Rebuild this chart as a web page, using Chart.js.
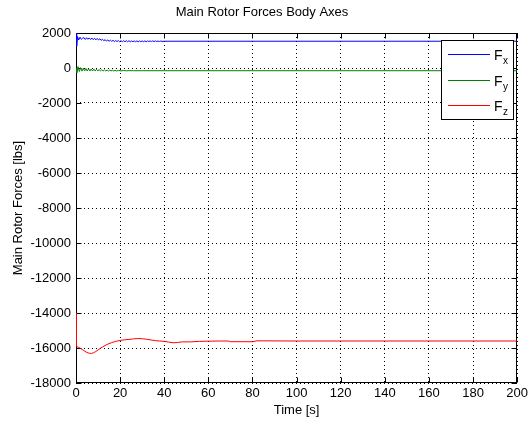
<!DOCTYPE html>
<html lang="en">
<head>
<meta charset="UTF-8" />
<title>Main Rotor Forces Body Axes</title>
<script src="https://cdn.jsdelivr.net/npm/chart.js"></script>
<style>
  body { margin: 0; background: #fff; }
  #wrap { width: 531px; height: 422px; }
</style>
</head>
<body>
<div id="wrap"><canvas id="forces" width="531" height="422"></canvas></div>
<script>
  // values (time in s, forces in lbs)
  const seriesLabels = ['Fx', 'Fy', 'Fz'];
  const seriesColors = ['#0000ff', '#008000', '#ff0000'];

  const fxTime = [
    0, 0.3, 0.7, 1.2, 1.8, 2.4, 3.0,
    3.6, 4.2, 4.8, 5.4, 6.0, 6.6, 7.2, 7.8, 8.4, 9.0,
    9.6, 10.2, 10.8, 11.4, 12.0, 12.6, 13.2, 13.8, 14.4, 15.0,
    15.6, 16.2, 16.8, 17.4, 18.0, 18.6, 19.2, 19.8, 20.4, 21.0,
    21.6, 22.2, 22.8, 23.4, 24.0, 24.6, 25.2, 25.8, 26.4, 27.0,
    27.6, 28.2, 28.8, 29.4, 30.0, 30.6, 31.2, 31.8, 32.4, 33.0,
    33.6, 34.2, 34.8, 35.4, 36.0, 36.6, 37.2, 37.8, 38.4, 39.0,
    40, 200
  ];
  const fxValues = [
    2000, 1250, 1800, 1600, 1760, 1640, 1700,
    1740, 1630, 1730, 1640, 1720, 1630, 1710, 1620, 1700, 1610,
    1690, 1600, 1670, 1580, 1640, 1560, 1620, 1540, 1600, 1530,
    1590, 1520, 1580, 1510, 1570, 1510, 1570, 1500, 1560, 1500,
    1560, 1500, 1560, 1500, 1560, 1500, 1550, 1500, 1550, 1500,
    1550, 1500, 1550, 1500, 1550, 1500, 1550, 1500, 1550, 1510,
    1550, 1510, 1550, 1510, 1550, 1510, 1545, 1515, 1540, 1520,
    1530, 1530
  ];

  const fyTime = [
    0, 0.4, 0.9, 1.5, 2.1, 2.7, 3.3,
    3.9, 4.5, 5.1, 5.7, 6.3, 6.9, 7.5, 8.1, 8.7, 9.3,
    9.9, 10.5, 11.1, 11.7, 12.3, 12.9, 13.5, 14.1, 14.7, 15.3,
    15.9, 16.5, 17.1, 17.7, 18.3, 19.2, 20.4, 21.6, 22.8, 24.0,
    26, 30, 40, 200
  ];
  const fyValues = [
    0, -260, 80, -200, 20, -180, -10,
    -170, -30, -170, -45, -170, -55, -170, -65, -170, -75,
    -170, -85, -170, -95, -170, -105, -170, -115, -170, -120,
    -170, -125, -170, -130, -170, -140, -165, -145, -160, -150,
    -155, -155, -155, -155
  ];

  const fzTime = [
    0, 0.15, 0.5, 1, 2, 3, 4, 5, 6, 7,
    8, 9, 10, 11, 12, 14, 16, 18, 20, 22,
    24, 26, 28, 30, 32, 34, 36, 38, 40, 42,
    44, 46, 48, 52, 56, 60, 65, 69, 70, 80,
    82, 100, 130, 160, 200
  ];
  const fzValues = [
    -14000, -15900, -15930, -15950, -16020, -16100, -16180, -16260, -16300, -16310,
    -16270, -16200, -16110, -16020, -15940, -15800, -15700, -15620, -15570, -15530,
    -15510, -15480, -15460, -15470, -15500, -15540, -15580, -15600, -15620, -15660,
    -15700, -15690, -15650, -15650, -15620, -15610, -15600, -15600, -15640, -15640,
    -15590, -15600, -15600, -15600, -15600
  ];

  const xTicks = [0, 20, 40, 60, 80, 100, 120, 140, 160, 180, 200];
  const yTicks = [2000, 0, -2000, -4000, -6000, -8000, -10000, -12000, -14000, -16000, -18000];

  const FONT = "'Liberation Sans', Arial, Helvetica, sans-serif";

  function toPoints(t, v) {
    return t.map((x, i) => ({ x: x, y: v[i] }));
  }

  // box with inward ticks under the lines, legend on top, like the original figure
  const matlabAxes = {
    id: 'matlabAxes',
    beforeDatasetsDraw(chart) {
      const { ctx, chartArea: a, scales } = chart;
      const L = Math.round(a.left) + 0.5, R = Math.round(a.right) - 0.5;
      const T = Math.round(a.top) + 0.5, B = Math.round(a.bottom) - 0.5;
      ctx.save();
      ctx.strokeStyle = '#000';
      ctx.lineWidth = 1;
      ctx.setLineDash([]);
      ctx.strokeRect(L, T, R - L, B - T);
      ctx.beginPath();
      xTicks.forEach(v => {
        const px = Math.round(scales.x.getPixelForValue(v)) + 0.5;
        ctx.moveTo(px, B); ctx.lineTo(px, B - 5);
        ctx.moveTo(px, T); ctx.lineTo(px, T + 5);
      });
      yTicks.forEach(v => {
        const py = Math.round(scales.y.getPixelForValue(v)) + 0.5;
        ctx.moveTo(L, py); ctx.lineTo(L + 5, py);
        ctx.moveTo(R, py); ctx.lineTo(R - 5, py);
      });
      ctx.stroke();
      ctx.restore();
    },
    afterDraw(chart) {
      const { ctx } = chart;
      const bx = 441.5, by = 40.5, bw = 72, bh = 79;
      ctx.save();
      ctx.setLineDash([]);
      ctx.lineWidth = 1;
      ctx.fillStyle = '#fff';
      ctx.fillRect(bx, by, bw, bh);
      ctx.strokeStyle = '#000';
      ctx.strokeRect(bx, by, bw, bh);
      chart.data.datasets.forEach((ds, i) => {
        const ly = Math.round(54 + i * 25.5) + 0.5;
        ctx.strokeStyle = seriesColors[i];
        ctx.beginPath();
        ctx.moveTo(448, ly);
        ctx.lineTo(490, ly);
        ctx.stroke();
        ctx.fillStyle = '#000';
        ctx.textBaseline = 'alphabetic';
        ctx.textAlign = 'left';
        ctx.font = '14px ' + FONT;
        ctx.fillText(ds.label.charAt(0), 494, ly + 5.5);
        ctx.font = '10px ' + FONT;
        ctx.fillText(ds.label.slice(1), 503, ly + 9);
      });
      ctx.restore();
    }
  };

  new Chart(document.getElementById('forces'), {
    type: 'line',
    data: {
      datasets: [
        { label: seriesLabels[0], data: toPoints(fxTime, fxValues), borderColor: seriesColors[0] },
        { label: seriesLabels[1], data: toPoints(fyTime, fyValues), borderColor: seriesColors[1] },
        { label: seriesLabels[2], data: toPoints(fzTime, fzValues), borderColor: seriesColors[2] }
      ]
    },
    options: {
      responsive: false,
      animation: false,
      devicePixelRatio: 1,
      elements: {
        line: { borderWidth: 1, tension: 0, fill: false },
        point: { radius: 0, hoverRadius: 0 }
      },
      layout: { padding: { left: 4, top: 5, right: 11, bottom: 3 } },
      plugins: {
        legend: { display: false },
        tooltip: { enabled: false },
        title: {
          display: true,
          text: 'Main Rotor Forces Body Axes',
          color: '#000',
          font: { family: FONT, size: 13, weight: 'normal' },
          padding: { top: 0, bottom: 12.4 }
        }
      },
      scales: {
        x: {
          type: 'linear',
          min: 0,
          max: 200,
          afterFit: s => { s.height = 36; },
          afterBuildTicks: s => { s.ticks = xTicks.map(v => ({ value: v })); },
          ticks: { color: '#000', font: { family: FONT, size: 13 }, padding: 3, maxRotation: 0 },
          grid: { color: '#000', lineWidth: 1, drawTicks: false },
          border: { display: false, dash: [1, 3] },
          title: {
            display: true, text: 'Time [s]', color: '#000',
            font: { family: FONT, size: 13 }, padding: { top: 0, bottom: 1 }
          }
        },
        y: {
          type: 'linear',
          min: -18000,
          max: 2000,
          afterFit: s => { s.width = 72; },
          afterBuildTicks: s => { s.ticks = yTicks.map(v => ({ value: v })); },
          ticks: { color: '#000', font: { family: FONT, size: 13 }, padding: 5, callback: v => String(v) },
          grid: { color: '#000', lineWidth: 1, drawTicks: false },
          border: { display: false, dash: [1, 3] },
          title: {
            display: true, text: 'Main Rotor Forces [lbs]', color: '#000',
            font: { family: FONT, size: 13 }, padding: { top: 7, bottom: 0 }
          }
        }
      }
    },
    plugins: [matlabAxes]
  });
</script>
</body>
</html>
